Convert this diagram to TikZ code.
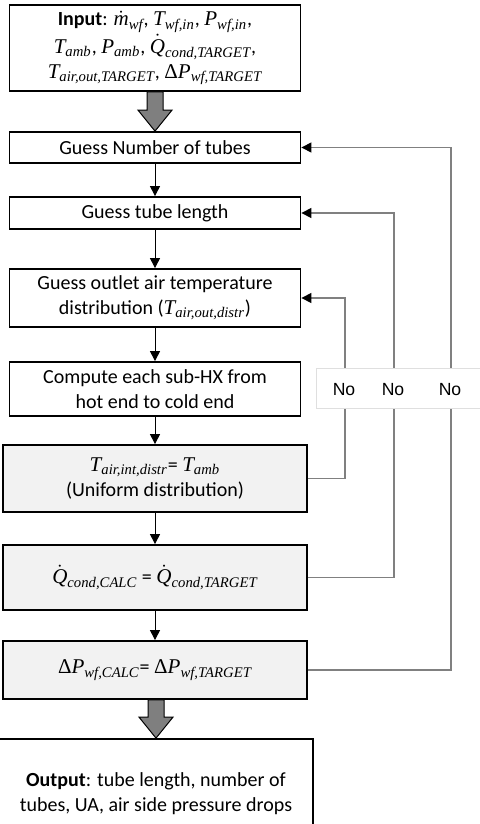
\documentclass[tikz,border=0pt]{standalone}
\usepackage{amsmath}
\usepackage{fontspec}
\setmainfont{Carlito}
\newfontfamily\nofont{Liberation Sans}
\newfontfamily\symfont[Scale=1.05]{Liberation Serif}
\usetikzlibrary{arrows.meta,calc}

\definecolor{boxgray}{RGB}{242,242,242}
\definecolor{linegray}{RGB}{128,128,128}
\definecolor{fatgray}{RGB}{127,127,127}

% quantity with subscript, and the same with a dot on top
\newcommand{\qty}[2]{\ensuremath{\text{\symfont\itshape #1}\sb{\text{\symfont\itshape #2}}}}
\newcommand{\qdot}[2]{\ensuremath{\dot{\text{\symfont\itshape #1}}\sb{\text{\symfont\itshape #2}}}}

% wide grey arrow from the bottom of #1 to the top of #2
\newcommand{\fatarrow}[2]{%
  \draw[fatarr] ($(#1.south -| #2.north)+(-8,0)$) -- ($(#2.north)+(-8,-21)$)
    -- ($(#2.north)+(-17,-21)$) -- (#2.north) -- ($(#2.north)+(17,-21)$)
    -- ($(#2.north)+(8,-21)$) -- ($(#1.south -| #2.north)+(8,0)$) -- cycle;}

\begin{document}
\begin{tikzpicture}[x=0.5pt, y=-0.5pt,
    box/.style={draw, line width=0.9pt, align=center, inner sep=0pt,
      font=\fontsize{10}{12.5}\selectfont, minimum width=145.5pt},
    calcbox/.style={box, fill=boxgray, minimum width=152pt},
    down/.style={-{Triangle[length=5pt,width=5pt]}, line width=0.5pt},
    back/.style={linegray, line width=0.6pt, -{Triangle[length=5pt,width=5pt,color=black]}},
    fatarr/.style={draw=black, fill=fatgray, line width=0.5pt},
    nolabel/.style={font=\nofont\fontsize{8.8}{10}\selectfont, inner sep=0pt}]
  \useasboundingbox (0,0) rectangle (480,824);

  \node[box, minimum height=43pt] (input) at (155,48)
    {\textbf{Input}: \qdot{m}{wf}, \qty{T}{wf,in}, \qty{P}{wf,in},\\
     \qty{T}{amb}, \qty{P}{amb}, \qdot{Q}{cond,TARGET},\\
     \qty{T}{air,out,TARGET}, \qty{{\upshape Δ}P}{wf,TARGET}};
  \node[box, minimum height=15.5pt] (ntubes) at (155,147.5) {Guess Number of tubes};
  \node[box, minimum height=16pt] (tlen) at (155,213) {Guess tube length};
  \node[box, minimum height=29pt] (tout) at (155,298)
    {Guess outlet air temperature\\ distribution (\qty{T}{air,out,distr})};
  \node[box, minimum height=27pt] (subhx) at (155,389)
    {Compute each sub-HX from\\ hot end to cold end};
  \node[calcbox, minimum height=33.5pt] (tair) at (155,478.5)
    {\qty{T}{air,int,distr}= \qty{T}{amb}\\ (Uniform distribution)};
  \node[calcbox, minimum height=32.5pt] (qcond) at (155,577.5)
    {\qdot{Q}{cond,CALC} = \qdot{Q}{cond,TARGET}};
  \node[calcbox, minimum height=29pt] (dp) at (155,670)
    {\qty{{\upshape Δ}P}{wf,CALC}= \qty{{\upshape Δ}P}{wf,TARGET}};
  \node[box, minimum width=157pt, minimum height=55pt] (output) at (156,794)
    {\textbf{Output}: tube length, number of\\ tubes, UA, air side pressure drops};

  \fatarrow{input}{ntubes}
  \fatarrow{dp}{output}

  \foreach \a/\b in {ntubes/tlen, tlen/tout, tout/subhx, subhx/tair, tair/qcond, qcond/dp}
    \draw[down] (\a.south) -- (\b.north);

  % loops back up
  \draw[back] (tair.east) -- ++(37,0) |- (tout.east);
  \draw[back] (qcond.east) -- ++(86,0) |- (tlen.east);
  \draw[back] (dp.east) -- ++(143,0) |- (ntubes.east);

  \node[draw=gray!25, fill=white, minimum width=83pt, minimum height=20pt, inner sep=0pt]
    (nobox) at (399,388) {};
  \foreach \x/\n in {344/noa, 393/nob, 450/noc}
    \node[nolabel] (\n) at (\x,390) {No};
\end{tikzpicture}
\end{document}
